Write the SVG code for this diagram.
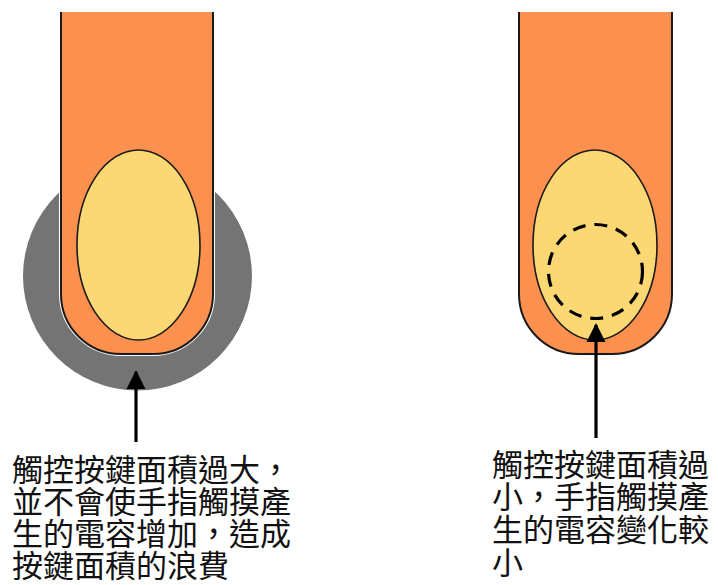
<svg xmlns="http://www.w3.org/2000/svg" width="718" height="585" viewBox="0 0 718 585">
  <style>
    .finger { fill: #FC914F; stroke: #1a1a1a; stroke-width: 2; }
    .nail { fill: #FCD875; stroke: #1a1a1a; stroke-width: 1.6; }
    .pad { fill: #747474; }
    .sense { fill: none; stroke: #000; stroke-width: 3.2; stroke-dasharray: 13 9; }
    .arrow { stroke: #000; stroke-width: 3.2; fill: none; }
    .label { font-family: "Noto Sans CJK TC", "Noto Sans CJK SC", sans-serif; font-size: 31px; fill: #111; }
  </style>
  <defs>
    <marker id="head" viewBox="0 0 10 10" refX="9" refY="5" markerWidth="6" markerHeight="6" markerUnits="strokeWidth" orient="auto">
      <path d="M0,0 L10,5 L0,10 z" fill="#000"/>
    </marker>
  </defs>
  <rect width="718" height="585" fill="#fff"/>

  <!-- oversized touch pad under the left finger -->
  <g id="large-key">
    <circle class="pad" cx="137.5" cy="276" r="114.5"/>
    <path d="M61,12 V294 A60,60 0 0 0 121,354 H153 A60,60 0 0 0 213,294 V12" fill="none" stroke="#fff" stroke-width="4"/>
    <path class="finger" d="M61,12 V294 A60,60 0 0 0 121,354 H153 A60,60 0 0 0 213,294 V12"/>
    <ellipse class="nail" cx="138.5" cy="245" rx="61.5" ry="95"/>
  </g>

  <!-- undersized touch pad under the right finger -->
  <g id="small-key">
    <path class="finger" d="M519,12 V294 A60,60 0 0 0 579,354 H612 A60,60 0 0 0 672,294 V12"/>
    <ellipse class="nail" cx="595" cy="245" rx="62" ry="95"/>
    <circle class="sense" cx="595.5" cy="271.5" r="47"/>
  </g>

  <g id="connectors">
    <line class="arrow" x1="136" y1="442" x2="136" y2="372" marker-end="url(#head)"/>
    <line class="arrow" x1="596" y1="438" x2="596" y2="325" marker-end="url(#head)"/>
  </g>

  <g id="label-large">
    <text class="label">
      <tspan x="12" y="481">觸控按鍵面積過大，</tspan>
      <tspan x="12" y="513">並不會使手指觸摸產</tspan>
      <tspan x="12" y="545">生的電容增加，造成</tspan>
      <tspan x="12" y="577">按鍵面積的浪費</tspan>
    </text>
  </g>

  <g id="label-small">
    <text class="label">
      <tspan x="492" y="476">觸控按鍵面積過</tspan>
      <tspan x="492" y="508">小，手指觸摸產</tspan>
      <tspan x="492" y="541">生的電容變化較</tspan>
      <tspan x="492" y="574">小</tspan>
    </text>
  </g>
</svg>
